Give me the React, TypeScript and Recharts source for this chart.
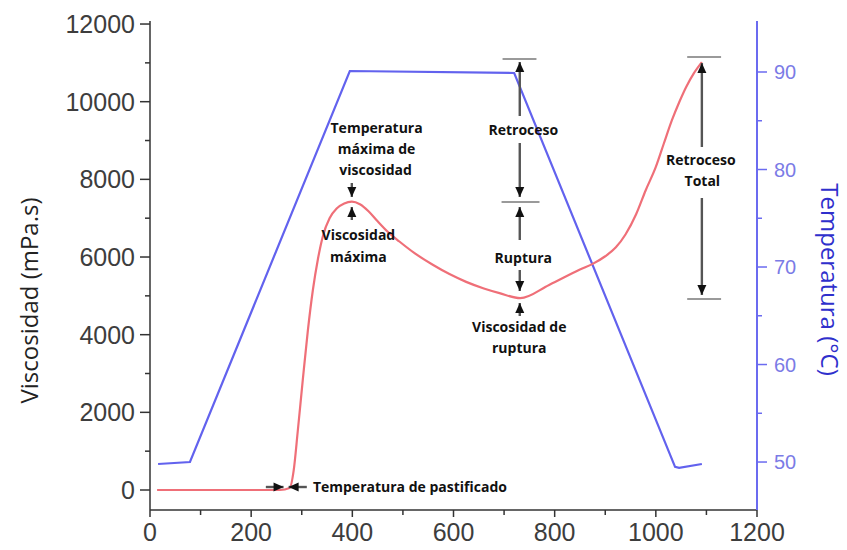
import React from 'react';
import { ComposedChart, Line, XAxis, YAxis, ReferenceLine, ReferenceDot } from 'recharts';

// Curva de viscosidad (mPa.s) frente al tiempo
const tiempoVisc = [14, 257, 276, 284, 292, 302, 312, 322, 332, 342, 355, 369, 384, 399, 415, 432, 450, 470, 493, 523, 559, 592, 625, 660, 691, 732, 789, 849, 876, 900, 921, 940, 961, 980, 1000, 1016, 1032, 1046, 1060, 1075, 1091];
const viscosidad = [0, 0, 50, 500, 1500, 2830, 4100, 5150, 5950, 6550, 7000, 7250, 7380, 7425, 7360, 7180, 6920, 6650, 6400, 6100, 5800, 5560, 5360, 5190, 5070, 4940, 5280, 5670, 5830, 6020, 6250, 6580, 7100, 7720, 8320, 8930, 9530, 9980, 10380, 10730, 11020];

// Perfil de temperatura (°C)
const tiempoTemp = [16, 79, 395, 720, 1038, 1046, 1091];
const temperatura = [49.8, 50.0, 90.1, 89.9, 49.5, 49.4, 49.8];

// Marcas de los ejes
const xTicks = [0, 100, 200, 300, 400, 500, 600, 700, 800, 900, 1000, 1100, 1200];
const viscTicks = [0, 1000, 2000, 3000, 4000, 5000, 6000, 7000, 8000, 9000, 10000, 11000, 12000];
const tempTicks = [50, 55, 60, 65, 70, 75, 80, 85, 90];

// Textos de las anotaciones (tiempo, viscosidad)
const etiquetas = [
  { texto: 'Temperatura de pastificado', t: 322, v: 90, ancla: 'start' },
  { texto: 'Temperatura', t: 448, v: 9323 },
  { texto: 'máxima de', t: 448, v: 8782 },
  { texto: 'viscosidad', t: 446, v: 8241 },
  { texto: 'Viscosidad', t: 412, v: 6567 },
  { texto: 'máxima', t: 412, v: 6026 },
  { texto: 'Retroceso', t: 738, v: 9271 },
  { texto: 'Ruptura', t: 738, v: 6000 },
  { texto: 'Viscosidad de', t: 730, v: 4198 },
  { texto: 'ruptura', t: 730, v: 3657 },
  { texto: 'Retroceso', t: 1089, v: 8524 },
  { texto: 'Total', t: 1092, v: 7958 },
];

// Flechas: tramo de línea y punta con su dirección
const flechas = [
  { t1: 731, v1: 11022, t2: 731, v2: 9632, dir: 'up' },
  { t1: 731, v1: 8936, t2: 731, v2: 7546, dir: 'down' },
  { t1: 731, v1: 7288, t2: 731, v2: 6438, dir: 'up' },
  { t1: 731, v1: 5666, t2: 731, v2: 5125, dir: 'down' },
  { t1: 731, v1: 4816, t2: 731, v2: 4481, dir: 'up' },
  { t1: 1091, v1: 10997, t2: 1091, v2: 8833, dir: 'up' },
  { t1: 1091, v1: 7520, t2: 1091, v2: 5022, dir: 'down' },
  { t1: 399, v1: 7906, t2: 399, v2: 7546, dir: 'down' },
  { t1: 399, v1: 7288, t2: 399, v2: 6953, dir: 'up' },
  { t1: 229, v1: 77, t2: 264, v2: 77, dir: 'right' },
  { t1: 274, v1: 77, t2: 310, v2: 77, dir: 'left' },
];

// Topes horizontales de las cotas
const topes = [
  { t1: 697, t2: 764, v: 11100 },
  { t1: 695, t2: 770, v: 7417 },
  { t1: 1062, t2: 1129, v: 11151 },
  { t1: 1062, t2: 1129, v: 4919 },
];

const viscData = tiempoVisc.map((t, i) => ({ t, v: viscosidad[i] }));
const tempData = tiempoTemp.map((t, i) => ({ t, temp: temperatura[i] }));

const TICK_FONT = '"Liberation Sans", Arial, sans-serif';
const NOTE_FONT = '"Open Sans", sans-serif';
const BLUE_AXIS = '#6b6bf0';

const LeftTick = (props: any) => {
  const { x, y, payload } = props;
  const major = payload.value % 2000 === 0;
  return (
    <g>
      <line x1={x - (major ? 10 : 5)} x2={x} y1={y} y2={y} stroke="#333" strokeWidth={1.5} />
      {major && (
        <text x={x - 15} y={y} textAnchor="end" dominantBaseline="central" fontFamily={TICK_FONT} fontSize={25} fill="#3d3d3d">
          {payload.value}
        </text>
      )}
    </g>
  );
};

const RightTick = (props: any) => {
  const { x, y, payload } = props;
  const major = payload.value % 10 === 0;
  return (
    <g>
      <line x1={x} x2={x + (major ? 10 : 5)} y1={y} y2={y} stroke={BLUE_AXIS} strokeWidth={1.5} />
      {major && (
        <text x={x + 17} y={y} textAnchor="start" dominantBaseline="central" fontFamily={TICK_FONT} fontSize={20} fill="#7b7be6">
          {payload.value}
        </text>
      )}
    </g>
  );
};

const BottomTick = (props: any) => {
  const { x, y, payload } = props;
  const major = payload.value % 200 === 0;
  return (
    <g>
      <line x1={x} x2={x} y1={y} y2={y + (major ? 7 : 5)} stroke="#333" strokeWidth={1.5} />
      {major && (
        <text x={x} y={y + 22} textAnchor="middle" dominantBaseline="central" fontFamily={TICK_FONT} fontSize={25} fill="#3d3d3d">
          {payload.value}
        </text>
      )}
    </g>
  );
};

const arrowHead = (dir: string) => (p: any) => {
  const { cx, cy } = p;
  const w = 4.5;
  const l = 10;
  let pts = '';
  if (dir === 'up') pts = `${cx},${cy} ${cx - w},${cy + l} ${cx + w},${cy + l}`;
  if (dir === 'down') pts = `${cx},${cy} ${cx - w},${cy - l} ${cx + w},${cy - l}`;
  if (dir === 'right') pts = `${cx},${cy} ${cx - l},${cy - w} ${cx - l},${cy + w}`;
  if (dir === 'left') pts = `${cx},${cy} ${cx + l},${cy - w} ${cx + l},${cy + w}`;
  return <polygon points={pts} fill="#111" />;
};

const noteText = (texto: string, ancla: string) => (p: any) => (
  <text
    x={p.cx}
    y={p.cy}
    textAnchor={ancla}
    dominantBaseline="central"
    fontFamily={NOTE_FONT}
    fontWeight={700}
    fontSize={14}
    fill="#111"
  >
    {texto}
  </text>
);

const leftTitle = (p: any) => {
  const vb = p.viewBox;
  const cx = vb.x + 28;
  const cy = vb.y + vb.height / 2 + 35;
  return (
    <text x={cx} y={cy} transform={`rotate(-90, ${cx}, ${cy})`} textAnchor="middle" dominantBaseline="central" fontFamily={NOTE_FONT} fontSize={24} fill="#222">
      Viscosidad (mPa.s)
    </text>
  );
};

const rightTitle = (p: any) => {
  const vb = p.viewBox;
  const cx = vb.x + 73;
  const cy = vb.y + vb.height / 2 + 14;
  return (
    <text x={cx} y={cy} transform={`rotate(90, ${cx}, ${cy})`} textAnchor="middle" dominantBaseline="central" fontFamily={NOTE_FONT} fontSize={24} fill="#2f2fcc">
      Temperatura (°C)
    </text>
  );
};

export default function App() {
  return (
    <div style={{ position: 'absolute', left: 0, top: 0, width: 847, height: 550, background: '#fff' }}>
      <ComposedChart width={847} height={550} margin={{ top: 21, right: 0, bottom: 0, left: 0 }}>
        <XAxis
          dataKey="t"
          type="number"
          domain={[0, 1200]}
          ticks={xTicks}
          interval={0}
          allowDataOverflow
          height={40}
          tickSize={0}
          tickMargin={0}
          tickLine={false}
          tick={BottomTick}
          axisLine={{ stroke: '#333', strokeWidth: 1.5 }}
        />
        <XAxis
          xAxisId="top"
          orientation="top"
          type="number"
          domain={[0, 1200]}
          height={0}
          tick={false}
          tickLine={false}
          axisLine={{ stroke: '#333', strokeWidth: 1.5 }}
        />
        <YAxis
          yAxisId="left"
          type="number"
          domain={[-515, 12078]}
          ticks={viscTicks}
          interval={0}
          allowDataOverflow
          width={150}
          tickSize={0}
          tickMargin={0}
          tickLine={false}
          tick={LeftTick}
          axisLine={{ stroke: '#333', strokeWidth: 1.5 }}
          label={{ value: 'Viscosidad (mPa.s)', content: leftTitle }}
        />
        <YAxis
          yAxisId="right"
          orientation="right"
          type="number"
          domain={[45.08, 95.23]}
          ticks={tempTicks}
          interval={0}
          allowDataOverflow
          width={90}
          tickSize={0}
          tickMargin={0}
          tickLine={false}
          tick={RightTick}
          axisLine={{ stroke: BLUE_AXIS, strokeWidth: 2 }}
          label={{ value: 'Temperatura (°C)', content: rightTitle }}
        />

        <Line
          yAxisId="right"
          data={tempData}
          dataKey="temp"
          type="linear"
          stroke="#6262ee"
          strokeWidth={2.2}
          dot={false}
          isAnimationActive={false}
        />
        <Line
          yAxisId="left"
          data={viscData}
          dataKey="v"
          type="monotone"
          stroke="#ef6f78"
          strokeWidth={2.2}
          dot={false}
          isAnimationActive={false}
        />

        {topes.map((c, i) => (
          <ReferenceLine
            key={`tope-${i}`}
            yAxisId="left"
            segment={[{ x: c.t1, y: c.v }, { x: c.t2, y: c.v }]}
            stroke="#9a9a9a"
            strokeWidth={2}
          />
        ))}
        {flechas.map((f, i) => (
          <ReferenceLine
            key={`fl-${i}`}
            yAxisId="left"
            segment={[{ x: f.t1, y: f.v1 }, { x: f.t2, y: f.v2 }]}
            stroke="#555"
            strokeWidth={2.4}
          />
        ))}
        {flechas.map((f, i) => {
          const tipT = f.dir === 'down' || f.dir === 'right' ? f.t2 : f.t1;
          const tipV = f.dir === 'down' || f.dir === 'right' ? f.v2 : f.v1;
          return (
            <ReferenceDot key={`pt-${i}`} yAxisId="left" x={tipT} y={tipV} r={4} shape={arrowHead(f.dir)} />
          );
        })}
        {etiquetas.map((e, i) => (
          <ReferenceDot
            key={`tx-${i}`}
            yAxisId="left"
            x={e.t}
            y={e.v}
            r={1}
            shape={noteText(e.texto, e.ancla || 'middle')}
          />
        ))}
      </ComposedChart>
    </div>
  );
}
